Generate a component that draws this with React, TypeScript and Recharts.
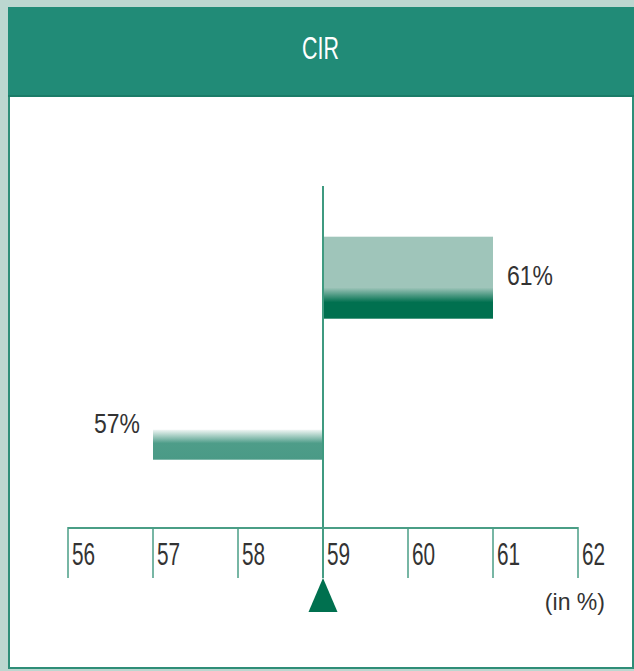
import { BarChart, Bar, XAxis, YAxis, ReferenceLine, LabelList, Label } from 'recharts';

const categories = ['A', 'B'];
const cirValues = [61, 57];
const baseline = 59;
const xTicks = [56, 57, 58, 59, 60, 61, 62];
const valueLabels = ['61%', '57%'];
const title = 'CIR';
const unitLabel = '(in %)';

const data = categories.map((name, i) => ({
  name,
  range: [baseline, cirValues[i]],
  label: valueLabels[i],
}));

const FONT = '"Liberation Sans", Arial, sans-serif';

// bar thickness + fill per category (upper bar is much thicker)
const barStyles = [
  { thickness: 82, fill: 'url(#cirUpper)' },
  { thickness: 30, fill: 'url(#cirLower)' },
];

function CirBar(props: any) {
  const { x, y, width, height, index } = props;
  const st = barStyles[index] ?? barStyles[0];
  const left = Math.min(x, x + width);
  const w = Math.abs(width);
  const cy = y + height / 2;
  return <rect x={left} y={cy - st.thickness / 2} width={w} height={st.thickness} fill={st.fill} />;
}

function ValueLabel(props: any) {
  const { x, y, width, height, value } = props;
  const cy = y + height / 2;
  if (width >= 0) {
    return (
      <text
        transform={`translate(${x + width + 14},${cy + 7}) scale(0.82,1)`}
        fontSize={28}
        fontFamily={FONT}
        fill="#333"
      >
        {value}
      </text>
    );
  }
  return (
    <text
      transform={`translate(${x + width - 13},${cy - 12}) scale(0.82,1)`}
      fontSize={28}
      fontFamily={FONT}
      fill="#333"
      textAnchor="end"
    >
      {value}
    </text>
  );
}

function AxisTick(props: any) {
  const { x, y, payload } = props;
  return (
    <g>
      <line x1={x} x2={x} y1={y - 1} y2={y + 50} stroke="#4a9e86" strokeWidth={1.5} />
      <text
        transform={`translate(${x + 4},${y + 37}) scale(0.65,1)`}
        fontSize={32}
        fontFamily={FONT}
        fill="#333"
      >
        {payload.value}
      </text>
    </g>
  );
}

function BaselineMarker(props: any) {
  const { x1, y1, y2 } = props;
  const top = Math.min(y1, y2) - 8;
  const bottom = Math.max(y1, y2) + 50;
  return (
    <g>
      <line x1={x1} x2={x1} y1={top} y2={bottom} stroke="#3f9a80" strokeWidth={2} />
      <polygon
        points={`${x1},${bottom} ${x1 - 14.5},${bottom + 34} ${x1 + 14.5},${bottom + 34}`}
        fill="#00704f"
      />
    </g>
  );
}

function UnitLabel(props: any) {
  const { viewBox } = props;
  const vb = viewBox || { x: 0, y: 0, width: 0 };
  return (
    <text
      transform={`translate(${vb.x + vb.width + 27},${vb.y + 82}) scale(0.96,1)`}
      fontSize={24}
      fontFamily={FONT}
      fill="#333"
      textAnchor="end"
    >
      {unitLabel}
    </text>
  );
}

export default function App() {
  return (
    <div style={{ position: 'relative', width: 634, height: 671, background: '#bcd7d0', overflow: 'hidden' }}>
      <style>{`body{margin:0}`}</style>
      <div
        style={{
          position: 'absolute',
          left: 8,
          top: 7,
          width: 626,
          height: 662,
          boxSizing: 'border-box',
          border: '2px solid #2e8e78',
          background: '#fff',
        }}
      />
      <div
        style={{
          position: 'absolute',
          left: 8,
          top: 7,
          width: 626,
          height: 90,
          boxSizing: 'border-box',
          background: '#218b77',
          borderBottom: '2px solid #1b7c68',
        }}
      >
        <div
          style={{
            position: 'absolute',
            left: 0,
            right: 0,
            top: 22,
            textAlign: 'center',
            color: '#fff',
            fontFamily: FONT,
            fontSize: 32,
            lineHeight: '38px',
          }}
        >
          <span style={{ display: 'inline-block', transform: 'scaleX(0.67)' }}>{title}</span>
        </div>
      </div>
      <div style={{ position: 'absolute', left: 0, top: 0 }}>
        <BarChart
          width={634}
          height={671}
          data={data}
          layout="vertical"
          margin={{ top: 194, right: 56, bottom: 93, left: 68 }}
        >
          <defs>
            <linearGradient id="cirUpper" x1="0" y1="0" x2="0" y2="1">
              <stop offset="0" stopColor="#9fc5ba" />
              <stop offset="0.62" stopColor="#9fc5ba" />
              <stop offset="0.8" stopColor="#00704f" />
              <stop offset="1" stopColor="#00704f" />
            </linearGradient>
            <linearGradient id="cirLower" x1="0" y1="0" x2="0" y2="1">
              <stop offset="0" stopColor="#f0f6f4" />
              <stop offset="0.45" stopColor="#4e9d89" />
              <stop offset="1" stopColor="#4a9a86" />
            </linearGradient>
          </defs>
          <XAxis
            type="number"
            domain={[56, 62]}
            ticks={xTicks}
            interval={0}
            height={50}
            tickSize={0}
            tickMargin={0}
            tickLine={false}
            axisLine={{ stroke: '#4a9e86', strokeWidth: 2 }}
            tick={<AxisTick />}
          >
            <Label content={<UnitLabel />} />
          </XAxis>
          <YAxis type="category" dataKey="name" hide />
          <Bar dataKey="range" shape={<CirBar />} isAnimationActive={false}>
            <LabelList dataKey="label" content={<ValueLabel />} />
          </Bar>
          <ReferenceLine x={baseline} shape={<BaselineMarker />} />
        </BarChart>
      </div>
    </div>
  );
}
